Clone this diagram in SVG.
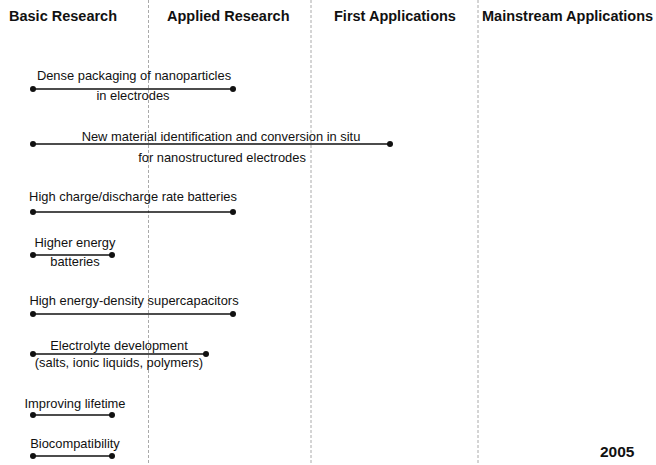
<svg xmlns="http://www.w3.org/2000/svg" width="656" height="465" viewBox="0 0 656 465">
<style>
.h{font-family:"Liberation Sans",Arial,sans-serif;font-weight:bold;font-size:14.5px;fill:#111}
.y{font-family:"Liberation Sans",Arial,sans-serif;font-weight:bold;font-size:15.5px;fill:#111}
.t{font-family:"Liberation Sans",Arial,sans-serif;font-size:12.9px;fill:#111;text-anchor:middle}
.d{stroke:#aaa;stroke-width:1;stroke-dasharray:3,2;fill:none}
.l{stroke:#111;stroke-width:1.6;fill:none}
.p{fill:#111}
</style>
<rect width="656" height="465" fill="#fff"/>
<g id="grid">
<line class="d" x1="148.5" y1="0" x2="148.5" y2="465"/>
<line class="d" x1="311" y1="0" x2="311" y2="465"/>
<line class="d" x1="478" y1="0" x2="478" y2="465"/>
</g>
<g id="headers">
<text class="h" x="9" y="21">Basic Research</text>
<text class="h" x="167" y="21">Applied Research</text>
<text class="h" x="334" y="21">First Applications</text>
<text class="h" x="482" y="21">Mainstream Applications</text>
</g>
<g id="connectors">
<line class="l" x1="33" y1="89" x2="233" y2="89"/>
<line class="l" x1="33" y1="144" x2="390" y2="144"/>
<line class="l" x1="33" y1="212" x2="233" y2="212"/>
<line class="l" x1="33" y1="255" x2="112" y2="255"/>
<line class="l" x1="33" y1="314" x2="233" y2="314"/>
<line class="l" x1="33" y1="354" x2="206" y2="354"/>
<line class="l" x1="33" y1="415" x2="112" y2="415"/>
<line class="l" x1="33" y1="456" x2="112" y2="456"/>
</g>
<g id="n1"><circle class="p" cx="33" cy="89" r="3"/><circle class="p" cx="233" cy="89" r="3"/>
<text class="t" x="134" y="80">Dense packaging of nanoparticles</text><text class="t" x="133" y="100">in electrodes</text></g>
<g id="n2"><circle class="p" cx="33" cy="144" r="3"/><circle class="p" cx="390" cy="144" r="3"/>
<text class="t" x="221" y="141">New material identification and conversion in situ</text><text class="t" x="222" y="162">for nanostructured electrodes</text></g>
<g id="n3"><circle class="p" cx="33" cy="212" r="3"/><circle class="p" cx="233" cy="212" r="3"/>
<text class="t" x="133" y="201">High charge/discharge rate batteries</text></g>
<g id="n4"><circle class="p" cx="33" cy="255" r="3"/><circle class="p" cx="112" cy="255" r="3"/>
<text class="t" x="75" y="247">Higher energy</text><text class="t" x="75" y="266">batteries</text></g>
<g id="n5"><circle class="p" cx="33" cy="314" r="3"/><circle class="p" cx="233" cy="314" r="3"/>
<text class="t" x="134" y="305">High energy-density supercapacitors</text></g>
<g id="n6"><circle class="p" cx="33" cy="354" r="3"/><circle class="p" cx="206" cy="354" r="3"/>
<text class="t" x="119" y="350">Electrolyte development</text><text class="t" x="119" y="367">(salts, ionic liquids, polymers)</text></g>
<g id="n7"><circle class="p" cx="33" cy="415" r="3"/><circle class="p" cx="112" cy="415" r="3"/>
<text class="t" x="75" y="408">Improving lifetime</text></g>
<g id="n8"><circle class="p" cx="33" cy="456" r="3"/><circle class="p" cx="112" cy="456" r="3"/>
<text class="t" x="75" y="448">Biocompatibility</text></g>
<g id="year"><text class="y" x="600" y="457">2005</text></g>
</svg>
